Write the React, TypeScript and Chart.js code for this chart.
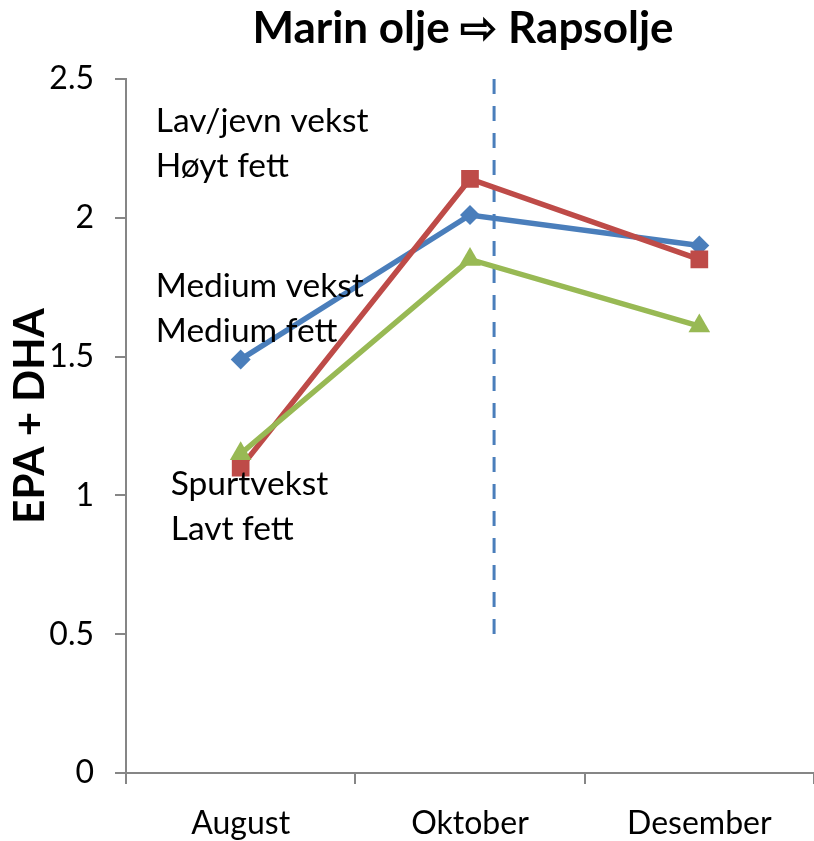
import React, { useEffect, useRef } from "react";
import { Chart, registerables } from "chart.js";

Chart.register(...registerables);

const categories = ["August", "Oktober", "Desember"];
const seriesNames = ["Lav/jevn vekst", "Medium vekst", "Spurtvekst"];
const blueValues = [1.49, 2.01, 1.9];
const redValues = [1.1, 2.14, 1.85];
const greenValues = [1.15, 1.85, 1.61];
const yTicks = [0, 0.5, 1, 1.5, 2, 2.5];
const titleText = "Marin olje \u21E8 Rapsolje";
const yTitleText = "EPA + DHA";
// annotation: x index of left edge, y value of first line centre, lines
const annotationX = [-0.37, -0.37, -0.305];
const annotationY = [2.347, 1.754, 1.041];
const annotationLines = [
  ["Lav/jevn vekst", "H\u00f8yt fett"],
  ["Medium vekst", "Medium fett"],
  ["Spurtvekst", "Lavt fett"],
];
const dividerX = 1.105;
const dividerYFrom = 2.5;
const dividerYTo = 0.46;

const FONT = "Lato, 'Open Sans', sans-serif";

export default function App() {
  const ref = useRef<HTMLCanvasElement>(null);
  useEffect(() => {
    document.body.style.margin = "0";
    const canvas = ref.current!;
    const overlay = {
      id: "overlay",
      beforeDatasetsDraw(chart: any) {
        const ctx = chart.ctx;
        const xs = chart.scales.x;
        const ys = chart.scales.y;
        ctx.save();
        ctx.strokeStyle = "#4A7EBB";
        ctx.lineWidth = 3;
        ctx.setLineDash([15, 12]);
        const dx = xs.getPixelForValue(dividerX);
        ctx.beginPath();
        ctx.moveTo(dx, ys.getPixelForValue(dividerYFrom));
        ctx.lineTo(dx, ys.getPixelForValue(dividerYTo));
        ctx.stroke();
        ctx.restore();
      },
      afterDatasetsDraw(chart: any) {
        const ctx = chart.ctx;
        const xs = chart.scales.x;
        const ys = chart.scales.y;
        const ca = chart.chartArea;
        ctx.save();
        ctx.fillStyle = "#000";
        ctx.font = `33.5px ${FONT}`;
        ctx.textAlign = "left";
        ctx.textBaseline = "middle";
        annotationLines.forEach((lines, i) => {
          const x = xs.getPixelForValue(annotationX[i]);
          const y0 = ys.getPixelForValue(annotationY[i]);
          lines.forEach((t, j) => ctx.fillText(t, x, y0 + j * 45));
        });
        ctx.font = `bold 44px ${FONT}`;
        ctx.textAlign = "center";
        ctx.textBaseline = "middle";
        ctx.fillText(titleText, (ca.left + ca.right) / 2 - 7, 29);
        ctx.font = `bold 42px ${FONT}`;
        ctx.translate(30, 416);
        ctx.rotate(-Math.PI / 2);
        ctx.textBaseline = "middle";
        ctx.fillText(yTitleText, 0, 0);
        ctx.restore();
      },
    };
    const mk = (label: string, data: number[], color: string, style: string, r: number, order: number) => ({
      label,
      data,
      borderColor: color,
      backgroundColor: color,
      borderWidth: 5.5,
      pointStyle: style,
      pointRadius: r,
      pointBorderWidth: 0,
      pointBackgroundColor: color,
      tension: 0,
      order,
    });
    const chart = new Chart(canvas, {
      type: "line",
      data: {
        labels: categories,
        datasets: [
          mk(seriesNames[0], blueValues, "#4A7EBB", "rectRot", 10, 2),
          mk(seriesNames[1], redValues, "#BE4B48", "rect", 12.5, 1),
          mk(seriesNames[2], greenValues, "#98B954", "triangle", 12.5, 0),
        ],
      },
      options: {
        responsive: false,
        animation: false,
        layout: { autoPadding: false, padding: { top: 79, right: 0, left: 0, bottom: 0 } },
        plugins: { legend: { display: false }, tooltip: { enabled: false }, title: { display: false } },
        scales: {
          x: {
            type: "category",
            offset: true,
            grid: { offset: true, drawOnChartArea: false, drawTicks: true, tickLength: 11, color: "#868686", lineWidth: 2 },
            border: { display: true, color: "#868686", width: 2 },
            ticks: { color: "#000", font: { size: 32, family: FONT }, padding: 20, maxRotation: 0, autoSkip: false },
            afterFit: (s: any) => {
              s.height = 68;
              s.paddingLeft = 0;
              s.paddingRight = 0;
            },
          },
          y: {
            min: 0,
            max: 2.5,
            grid: { drawOnChartArea: false, drawTicks: true, tickLength: 11, color: "#868686", lineWidth: 2 },
            border: { display: true, color: "#868686", width: 2 },
            ticks: {
              stepSize: 0.5,
              color: "#000",
              font: { size: 32, family: FONT },
              padding: 21,
              callback: (v: any) => (yTicks.includes(Number(v)) ? String(v) : ""),
            },
            afterFit: (s: any) => {
              s.width = 126;
              s.paddingTop = 0;
              s.paddingBottom = 0;
            },
          },
        },
      },
      plugins: [overlay],
    } as any);
    return () => chart.destroy();
  }, []);
  return <canvas ref={ref} width={814} height={841} style={{ display: "block" }} />;
}
